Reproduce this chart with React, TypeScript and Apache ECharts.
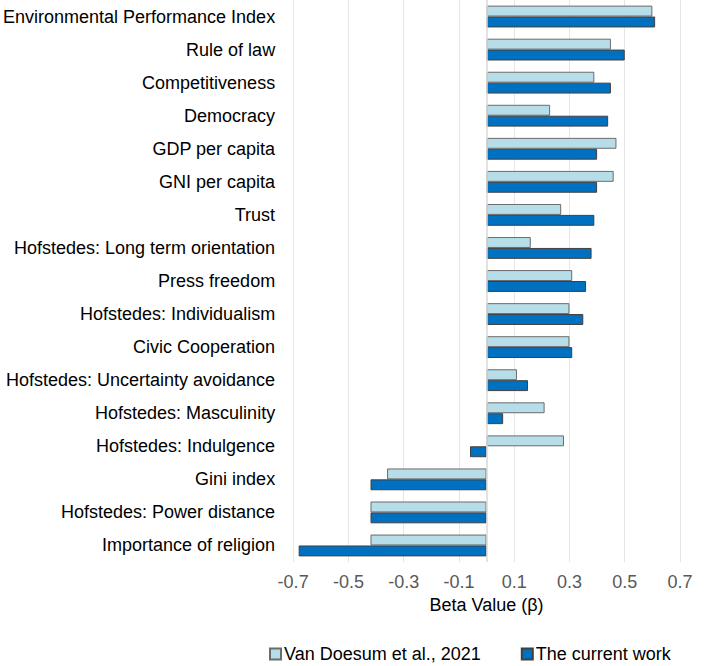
import React, { useEffect, useRef } from "react";
import * as echarts from "echarts";

const categories = [
  "Environmental Performance Index",
  "Rule of law",
  "Competitiveness",
  "Democracy",
  "GDP per capita",
  "GNI per capita",
  "Trust",
  "Hofstedes: Long term orientation",
  "Press freedom",
  "Hofstedes: Individualism",
  "Civic Cooperation",
  "Hofstedes: Uncertainty avoidance",
  "Hofstedes: Masculinity",
  "Hofstedes: Indulgence",
  "Gini index",
  "Hofstedes: Power distance",
  "Importance of religion",
];

const vanDoesum = [0.6, 0.45, 0.39, 0.23, 0.47, 0.46, 0.27, 0.16, 0.31, 0.3, 0.3, 0.11, 0.21, 0.28, -0.36, -0.42, -0.42];
const currentWork = [0.61, 0.5, 0.45, 0.44, 0.4, 0.4, 0.39, 0.38, 0.36, 0.35, 0.31, 0.15, 0.06, -0.06, -0.42, -0.42, -0.68];

const seriesNames = ["Van Doesum et al., 2021", "The current work"];
const FONT = "'Liberation Sans', Arial, Helvetica, sans-serif";

export default function App() {
  const ref = useRef<HTMLDivElement>(null);
  useEffect(() => {
    document.body.style.margin = "0";
    if (!ref.current) return;
    const chart = echarts.init(ref.current, undefined, { renderer: "svg" });
    chart.setOption({
      animation: false,
      textStyle: { fontFamily: FONT },
      grid: { left: 288, right: 29, top: 0, bottom: 104, containLabel: false },
      legend: {
        top: 643,
        left: 264,
        padding: [2, 5, 2, 5],
        itemWidth: 11,
        itemHeight: 11,
        itemGap: 40,
        icon: "rect",
        textStyle: { fontSize: 18, color: "#000", fontFamily: FONT, padding: [0, 0, 0, -2] },
        data: seriesNames,
      },
      xAxis: {
        type: "value",
        min: -0.7,
        max: 0.7,
        interval: 0.2,
        name: "Beta Value (β)",
        nameLocation: "middle",
        nameGap: 34,
        nameTextStyle: { fontSize: 18, color: "#000", fontFamily: FONT },
        axisLine: { show: false },
        axisTick: { show: false },
        axisLabel: { fontSize: 18, color: "#595959", margin: 11, formatter: (v: number) => v.toFixed(1), fontFamily: FONT },
        splitLine: { show: true, lineStyle: { color: "#e6e6e6", width: 1 } },
      },
      yAxis: {
        type: "category",
        data: categories,
        inverse: true,
        axisLine: { show: false },
        axisTick: { show: false },
        splitLine: { show: false },
        axisLabel: { fontSize: 18, color: "#000", margin: 18, fontFamily: FONT },
      },
      series: [
        {
          name: seriesNames[0],
          type: "bar",
          data: vanDoesum,
          barGap: "0%",
          barCategoryGap: "34%",
          itemStyle: { color: "#B7DEE8", borderColor: "#6b6b6b", borderWidth: 1 },
          markLine: {
            silent: true,
            symbol: "none",
            label: { show: false },
            lineStyle: { color: "#d9d9d9", type: "solid", width: 1.5 },
            data: [{ xAxis: 0 }],
          },
        },
        {
          name: seriesNames[1],
          type: "bar",
          data: currentWork,
          barGap: "0%",
          barCategoryGap: "34%",
          itemStyle: { color: "#0070C0", borderColor: "#404040", borderWidth: 1 },
        },
      ],
    });
    return () => chart.dispose();
  }, []);
  return <div ref={ref} style={{ width: 709, height: 666 }} />;
}
